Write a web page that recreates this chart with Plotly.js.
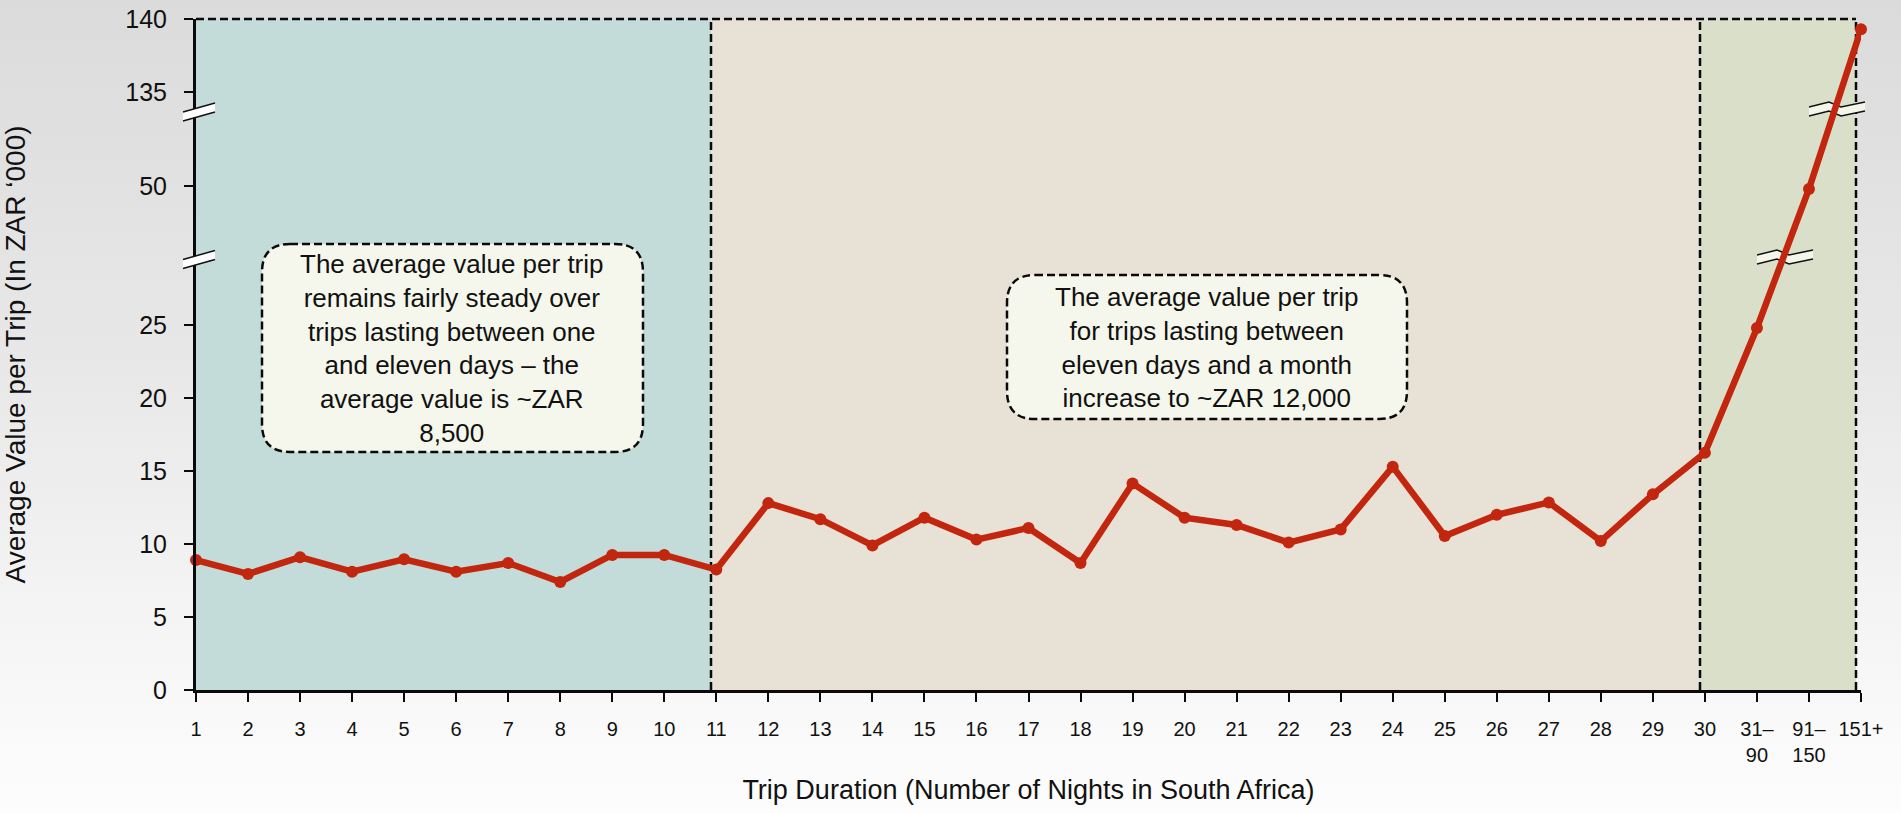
<!DOCTYPE html>
<html>
<head>
<meta charset="utf-8">
<script src="https://cdn.plot.ly/plotly-3.0.1.min.js"></script>
<style>
html,body{margin:0;padding:0;width:1901px;height:813px;overflow:hidden;
background:linear-gradient(to bottom,#dbdbdb 0%,#e8e8e8 45%,#f6f6f6 80%,#fdfdfd 100%);}
#chart{width:1901px;height:813px;}
</style>
</head>
<body>
<div id="chart"></div>
<script>
// ---------------- data ----------------
const categories = ["1","2","3","4","5","6","7","8","9","10","11","12","13","14","15","16","17","18","19","20",
  "21","22","23","24","25","26","27","28","29","30","31–90","91–150","151+"];
const tickLabels = ["1","2","3","4","5","6","7","8","9","10","11","12","13","14","15","16","17","18","19","20",
  "21","22","23","24","25","26","27","28","29","30","31–<br>90","91–<br>150","151+"];
const avgValue = [8.9, 7.95, 9.1, 8.1, 8.95, 8.1, 8.7, 7.4, 9.25, 9.25,
  8.25, 12.8, 11.7, 9.9, 11.8, 10.3, 11.1, 8.7, 14.15, 11.8,
  11.3, 10.1, 11.0, 15.3, 10.55, 12.0, 12.85, 10.2, 13.4, 16.25,
  24.8, 49.8, 139.3];
const yTickValues = [0, 5, 10, 15, 20, 25, 50, 135, 140];
const yTickLabels = ["0", "5", "10", "15", "20", "25", "50", "135", "140"];
const note1 = "The average value per trip<br>remains fairly steady over<br>trips lasting between one<br>and eleven days – the<br>average value is ~ZAR<br>8,500";
const note2 = "The average value per trip<br>for trips lasting between<br>eleven days and a month<br>increase to ~ZAR 12,000";

// ---------------- broken y-axis transform ----------------
const breakLow = 29.45, midOffset = 15.48, topOffset = 94.04;
function toAxis(v) {
  if (v <= breakLow) return v;
  if (v <= 90) return v - midOffset;
  return v - topOffset;
}

// ---------------- pixel helpers for decorations ----------------
const L = 196, R = 1861, T = 19, B = 690;
const px = x => (x - L) / (R - L);
const py = y => (B - y) / (B - T);
const P = (x, y) => px(x).toFixed(5) + "," + py(y).toFixed(5);

function rrect(x0, y0, x1, y1, r) {
  return "M" + P(x0 + r, y0) + " L" + P(x1 - r, y0) + " Q" + P(x1, y0) + " " + P(x1, y0 + r) +
    " L" + P(x1, y1 - r) + " Q" + P(x1, y1) + " " + P(x1 - r, y1) +
    " L" + P(x0 + r, y1) + " Q" + P(x0, y1) + " " + P(x0, y1 - r) +
    " L" + P(x0, y0 + r) + " Q" + P(x0, y0) + " " + P(x0 + r, y0) + " Z";
}

const dashStyle = {color: "#0a0a0a", width: 2.5, dash: "8px,4px"};
const shapes = [];
function rect(x0, x1, color) {
  shapes.push({type: "rect", xref: "paper", yref: "paper", x0: px(x0), x1: px(x1), y0: 0, y1: 1,
    fillcolor: color, line: {width: 0}, layer: "below"});
}
rect(196, 711, "#c3dcd9");
rect(711, 1700, "#e7e1d6");
rect(1700, 1856, "#dadfca");

function vline(x) {
  shapes.push({type: "line", xref: "paper", yref: "paper", x0: px(x), x1: px(x), y0: 0, y1: 1,
    line: dashStyle, layer: "below"});
}
shapes.push({type: "line", xref: "paper", yref: "paper", x0: 0, x1: px(1856), y0: 1, y1: 1,
  line: dashStyle, layer: "below"});
vline(711); vline(1700); vline(1856);

// annotation boxes
shapes.push({type: "path", xref: "paper", yref: "paper", path: rrect(262, 244, 643, 452, 28),
  fillcolor: "#f6f7ec", line: {color: "#0a0a0a", width: 2.5, dash: "8px,4px"}, layer: "below"});
shapes.push({type: "path", xref: "paper", yref: "paper", path: rrect(1007, 275, 1407, 419, 28),
  fillcolor: "#f6f7ec", line: {color: "#0a0a0a", width: 2.5, dash: "8px,4px"}, layer: "below"});

// left axis break marks
function leftBreak(yc) {
  const a = [183, yc], b = [215, yc - 9], c = [215, yc], d = [183, yc + 9];
  shapes.push({type: "path", xref: "paper", yref: "paper",
    path: "M" + P(a[0], a[1]) + " L" + P(b[0], b[1]) + " L" + P(c[0], c[1]) + " L" + P(d[0], d[1]) + " Z",
    fillcolor: "#ffffff", line: {width: 0}, layer: "above"});
  shapes.push({type: "path", xref: "paper", yref: "paper",
    path: "M" + P(a[0], a[1]) + " L" + P(b[0], b[1]) + " M" + P(d[0], d[1]) + " L" + P(c[0], c[1]),
    line: {color: "#111", width: 1.5}, layer: "above"});
}
leftBreak(112);
leftBreak(259.5);

// right zig-zag break marks
function rightBreak(cx, cy) {
  const up = [[-28, -1], [-8, -6], [4, -1], [28, -6]];
  const lo = up.map(p => [p[0], p[1] + 9]);
  let poly = "M" + P(cx + up[0][0], cy + up[0][1]);
  for (let i = 1; i < up.length; i++) poly += " L" + P(cx + up[i][0], cy + up[i][1]);
  for (let i = lo.length - 1; i >= 0; i--) poly += " L" + P(cx + lo[i][0], cy + lo[i][1]);
  poly += " Z";
  shapes.push({type: "path", xref: "paper", yref: "paper", path: poly,
    fillcolor: "#f4f6ea", line: {width: 0}, layer: "below"});
  let lines = "";
  [up, lo].forEach(pts => {
    lines += " M" + P(cx + pts[0][0], cy + pts[0][1]);
    for (let i = 1; i < pts.length; i++) lines += " L" + P(cx + pts[i][0], cy + pts[i][1]);
  });
  shapes.push({type: "path", xref: "paper", yref: "paper", path: lines.trim(),
    line: {color: "#111", width: 1.5}, layer: "below"});
}
rightBreak(1837, 108);
rightBreak(1785, 256);

const font = "Liberation Sans, Arial, sans-serif";

const trace = {
  type: "scatter", mode: "lines+markers",
  x: categories, y: avgValue.map(toAxis),
  line: {color: "#c2260f", width: 6.5},
  marker: {color: "#c2260f", size: 12},
  cliponaxis: false, hoverinfo: "skip"
};

const layout = {
  width: 1901, height: 813,
  margin: {l: L, r: 1901 - R, t: T, b: 813 - B},
  paper_bgcolor: "rgba(0,0,0,0)", plot_bgcolor: "rgba(0,0,0,0)",
  showlegend: false,
  font: {family: font, color: "#111"},
  xaxis: {
    type: "category", categoryorder: "array", categoryarray: categories,
    range: [0, categories.length - 1],
    tickmode: "array", tickvals: categories, ticktext: tickLabels,
    showline: true, linecolor: "#0a0a0a", linewidth: 3,
    ticks: "outside", ticklen: 9, tickwidth: 2, tickcolor: "#0a0a0a",
    tickfont: {size: 20, family: font, color: "#111"},
    ticklabelstandoff: 10,
    showgrid: false, zeroline: false, fixedrange: true,
    title: {text: "Trip Duration (Number of Nights in South Africa)", font: {size: 27, family: font, color: "#111"}, standoff: 16}
  },
  yaxis: {
    range: [0, toAxis(140)],
    tickmode: "array", tickvals: yTickValues.map(toAxis), ticktext: yTickLabels,
    showline: true, linecolor: "#0a0a0a", linewidth: 3,
    ticks: "outside", ticklen: 9, tickwidth: 2, tickcolor: "#0a0a0a",
    tickfont: {size: 25, family: font, color: "#111"},
    ticklabelstandoff: 12,
    showgrid: false, zeroline: false, fixedrange: true,
    title: {text: "Average Value per Trip (In ZAR ‘000)", font: {size: 28, family: font, color: "#111"}, standoff: 93}
  },
  shapes: shapes,
  annotations: [
    {xref: "paper", yref: "paper", x: px(452), y: py(348), xanchor: "center", yanchor: "middle",
     text: note1, showarrow: false, align: "center", font: {size: 26, family: font, color: "#111"}},
    {xref: "paper", yref: "paper", x: px(1207), y: py(347), xanchor: "center", yanchor: "middle",
     text: note2, showarrow: false, align: "center", font: {size: 26, family: font, color: "#111"}}
  ]
};

Plotly.newPlot("chart", [trace], layout, {staticPlot: true, displayModeBar: false});
</script>
</body>
</html>
